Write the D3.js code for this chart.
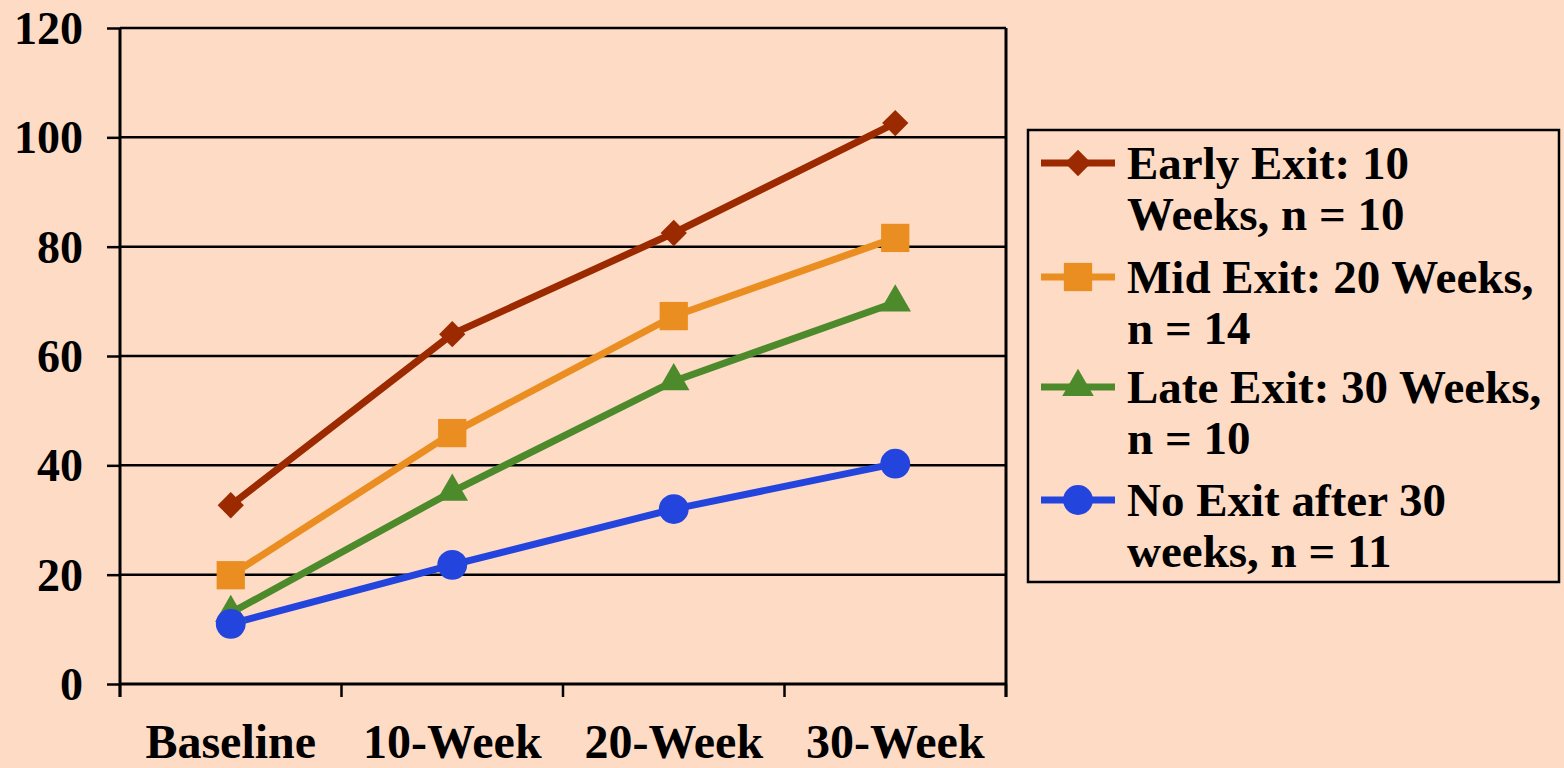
<!DOCTYPE html>
<html>
<head>
<meta charset="utf-8">
<script src="https://cdn.jsdelivr.net/npm/d3@7"></script>
<style>
  body { margin: 0; background: #FEDBC5; }
  svg { display: block; }
  text { font-family: "Liberation Serif", "Times New Roman", serif; font-weight: bold; fill: #000; }
</style>
</head>
<body>
<div id="chart"></div>
<script>
var categories = ["Baseline", "10-Week", "20-Week", "30-Week"];
var seriesNames = [
  ["Early Exit: 10", "Weeks, n = 10"],
  ["Mid Exit: 20 Weeks,", "n = 14"],
  ["Late Exit: 30 Weeks,", "n = 10"],
  ["No Exit after 30", "weeks, n = 11"]
];
var earlyExit = [32.7, 64.0, 82.5, 102.6];
var midExit = [19.9, 45.9, 67.3, 81.6];
var lateExit = [13.0, 35.2, 55.4, 69.8];
var noExit = [11.0, 21.8, 32.0, 40.3];
var yTicks = [0, 20, 40, 60, 80, 100, 120];
var colors = ["#9C2A00", "#EB8E21", "#4C8A2C", "#2345DD"];
var shapes = [d3.symbolDiamond2, d3.symbolSquare, d3.symbolTriangle, d3.symbolCircle];

var allSeries = [earlyExit, midExit, lateExit, noExit];

var margin = {top: 28, right: 558, bottom: 84, left: 120},
    width = 1564 - margin.left - margin.right,
    height = 768 - margin.top - margin.bottom;

var svg = d3.select("#chart")
  .append("svg")
    .attr("width", 1564)
    .attr("height", 768);

var g = svg.append("g")
    .attr("transform", "translate(" + margin.left + "," + margin.top + ")");

var x = d3.scaleBand()
  .domain(categories)
  .range([0, width]);

var y = d3.scaleLinear()
  .domain([0, 120])
  .range([height, 0]);

// gridlines
g.selectAll(".grid")
  .data(yTicks.filter(d => d > 0))
  .enter()
  .append("line")
    .attr("x1", 0)
    .attr("x2", width)
    .attr("y1", d => y(d))
    .attr("y2", d => y(d))
    .attr("stroke", "#000")
    .attr("stroke-width", 2.5);

// right border
g.append("line")
  .attr("x1", width).attr("x2", width)
  .attr("y1", y(120)).attr("y2", height + 13)
  .attr("stroke", "#000").attr("stroke-width", 3);

// y axis
var yAxis = g.append("g")
  .call(d3.axisLeft(y).tickValues(yTicks).tickSize(13).tickPadding(24));
yAxis.select(".domain").attr("stroke-width", 3).attr("d", "M0," + (height + 13) + "V0");
yAxis.selectAll(".tick line").attr("stroke-width", 2.5);
yAxis.selectAll("text")
  .style("font-family", "'Liberation Serif', serif")
  .style("font-weight", "bold")
  .style("font-size", "46px")
  .attr("x", -37)
  .attr("dy", "0.34em");

// x axis
var xAxis = g.append("g")
  .attr("transform", "translate(0," + height + ")")
  .call(d3.axisBottom(x).tickSize(0));
xAxis.select(".domain").attr("stroke-width", 3).attr("d", "M0,0H" + width);
xAxis.selectAll("text")
  .style("font-family", "'Liberation Serif', serif")
  .style("font-weight", "bold")
  .style("font-size", "48px")
  .attr("y", 74)
  .attr("dy", 0);

// x ticks between categories
g.selectAll(".xtick")
  .data(categories.concat(["end"]))
  .enter()
  .append("line")
    .attr("x1", (d, i) => i * x.bandwidth())
    .attr("x2", (d, i) => i * x.bandwidth())
    .attr("y1", height)
    .attr("y2", height + 13)
    .attr("stroke", "#000")
    .attr("stroke-width", 2.5);

var line = d3.line()
  .x((d, i) => x(categories[i]) + x.bandwidth() / 2)
  .y(d => y(d));

var sizes = [440, 800, 430, 700];

allSeries.forEach(function(vals, si) {
  g.append("path")
    .datum(vals)
    .attr("fill", "none")
    .attr("stroke", colors[si])
    .attr("stroke-width", 7)
    .attr("d", line);
});

allSeries.forEach(function(vals, si) {
  g.selectAll(".m" + si)
    .data(vals)
    .enter()
    .append("path")
      .attr("transform", (d, i) => "translate(" + (x(categories[i]) + x.bandwidth() / 2) + "," + y(d) + ")")
      .attr("d", d3.symbol().type(shapes[si]).size(sizes[si]))
      .attr("fill", colors[si]);
});

// legend
var legend = svg.append("g").attr("transform", "translate(1028,130)");
legend.append("rect")
  .attr("width", 531)
  .attr("height", 452)
  .attr("fill", "none")
  .attr("stroke", "#000")
  .attr("stroke-width", 2.5);

var rowY = [33, 147, 257, 370];
var lineGap = 51;
seriesNames.forEach(function(lines, si) {
  var row = legend.append("g").attr("transform", "translate(0," + rowY[si] + ")");
  row.append("line")
    .attr("x1", 13).attr("x2", 87)
    .attr("y1", 0).attr("y2", 0)
    .attr("stroke", colors[si]).attr("stroke-width", 7);
  row.append("path")
    .attr("transform", "translate(50,0)")
    .attr("d", d3.symbol().type(shapes[si]).size(sizes[si]))
    .attr("fill", colors[si]);
  lines.forEach(function(t, li) {
    row.append("text")
      .attr("x", 99)
      .attr("y", li * lineGap)
      .attr("dy", "0.35em")
      .style("font-size", "47px")
      .text(t);
  });
});
</script>
</body>
</html>
